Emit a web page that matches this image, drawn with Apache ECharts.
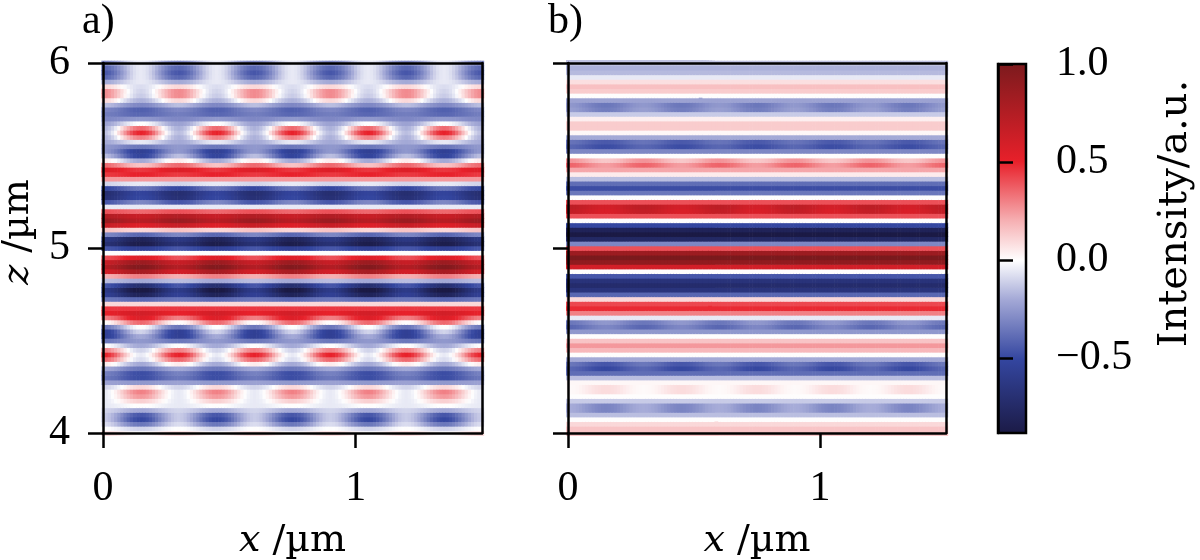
<!DOCTYPE html>
<html>
<head>
<meta charset="utf-8">
<script src="https://cdn.jsdelivr.net/npm/echarts@6/dist/echarts.min.js"></script>
<style>
  html, body { margin: 0; background: #fff; }
  #chart { width: 1200px; height: 560px; }
</style>
</head>
<body>
<div id="chart"></div>
<script>
// row centres run from 4.000 to 6.000 um in steps of 0.025
var zStart = 4.0, zStep = 0.025;
// column centres run from 0 to 1.5 um in steps of 0.0125
var xStep = 0.0125, xMax = 1.5;
// shape of one 0.3 um period along x (1 = peak column at x=0.15, 0 = trough column at x=0, 0.3)
var phaseWeight = [
  0, 0.02, 0.07, 0.15, 0.25, 0.37, 0.5, 0.63, 0.75, 0.85, 0.93, 0.98,
  1, 0.98, 0.93, 0.85, 0.75, 0.63, 0.5, 0.37, 0.25, 0.15, 0.07, 0.02
];

// panel a) values read along x=0.15 (peak) and x=0.3 (trough), z = 4.000 ... 6.000
var aPeak = [
  0.0, -0.1, -0.35, -0.5, -0.45, -0.2, 0.0, 0.12, 0.25, 0.3,
  0.1, -0.25, -0.48, -0.48, -0.35, -0.2, -0.08, -0.05, -0.1, -0.2,
  -0.25, -0.2, -0.1, 0.0, 0.35, 0.55, 0.6, 0.45, 0.1, -0.4,
  -0.8, -0.9, -0.7, -0.2, 0.3, 0.8, 0.97, 0.85, 0.55, 0.0,
  -0.55, -0.85, -0.8, -0.4, 0.1, 0.55, 0.72, 0.65, 0.35, -0.05,
  -0.3, -0.5, -0.52, -0.35, -0.05, 0.25, 0.5, 0.45, 0.15, -0.2,
  -0.52, -0.55, -0.35, -0.05, 0.3, 0.5, 0.35, 0.0, -0.25, -0.4,
  -0.42, -0.3, -0.18, -0.12, -0.1, -0.08, -0.05, -0.05, -0.05, -0.05,
  -0.05
];
var aTrough = [
  0.1, 0.0, -0.08, -0.12, -0.12, -0.1, -0.05, -0.05, -0.05, -0.05,
  -0.1, -0.22, -0.35, -0.32, -0.2, 0.05, 0.35, 0.5, 0.3, 0.0,
  -0.35, -0.55, -0.55, -0.35, 0.0, 0.3, 0.5, 0.45, 0.1, -0.35,
  -0.55, -0.6, -0.45, -0.15, 0.2, 0.6, 0.75, 0.65, 0.4, 0.0,
  -0.45, -0.68, -0.62, -0.3, 0.15, 0.65, 0.85, 0.75, 0.4, -0.05,
  -0.45, -0.68, -0.7, -0.5, -0.1, 0.25, 0.45, 0.55, 0.35, 0.05,
  -0.15, -0.25, -0.25, -0.2, -0.18, -0.15, -0.18, -0.22, -0.3, -0.33,
  -0.3, -0.15, 0.1, 0.28, 0.28, 0.1, -0.2, -0.4, -0.45, -0.4,
  -0.3
];

// panel b) same columns
var bPeak = [
  0.15, 0.15, 0.1, 0.0, -0.15, -0.31, -0.31, -0.12, 0.0, 0.09,
  0.09, 0.02, -0.15, -0.38, -0.5, -0.45, -0.2, 0.0, 0.18, 0.25,
  0.15, 0.0, -0.25, -0.3, -0.25, -0.05, 0.3, 0.48, 0.42, 0.1,
  -0.4, -0.65, -0.72, -0.66, -0.45, 0.0, 0.6, 0.9, 1.0, 0.85,
  0.4, -0.3, -0.75, -0.88, -0.8, -0.5, 0.0, 0.4, 0.57, 0.6,
  0.4, 0.0, -0.35, -0.48, -0.38, -0.15, 0.05, 0.22, 0.24, 0.14,
  0.0, -0.3, -0.48, -0.44, -0.2, 0.02, 0.13, 0.13, 0.04, -0.12,
  -0.33, -0.35, -0.22, 0.0, 0.13, 0.16, 0.08, -0.05, -0.16, -0.18,
  -0.14
];
var bTrough = [
  0.15, 0.15, 0.1, 0.0, -0.15, -0.19, -0.19, -0.12, 0.0, 0.01,
  0.01, 0.02, -0.15, -0.38, -0.4, -0.35, -0.2, 0.0, 0.18, 0.25,
  0.15, 0.0, -0.25, -0.4, -0.35, -0.05, 0.3, 0.48, 0.42, 0.1,
  -0.4, -0.65, -0.72, -0.66, -0.45, 0.0, 0.6, 0.9, 1.0, 0.85,
  0.4, -0.3, -0.75, -0.88, -0.8, -0.5, 0.0, 0.4, 0.67, 0.7,
  0.4, 0.0, -0.35, -0.48, -0.38, -0.15, 0.05, 0.22, 0.36, 0.26,
  0.0, -0.3, -0.4, -0.36, -0.2, 0.02, 0.13, 0.13, 0.04, -0.12,
  -0.23, -0.25, -0.22, 0.0, 0.13, 0.16, 0.08, -0.05, -0.16, -0.18,
  -0.14
];

// colour bar
var cbMin = -0.88, cbMax = 1.0;
var cbTicks = [-0.5, 0, 0.5, 1.0];
var cbStops = [
  [-0.88, '#1b1a45'], [-0.5, '#3446a0'], [-0.2, '#a3a8d6'], [0, '#ffffff'],
  [0.2, '#f6b0b3'], [0.5, '#e8202a'], [1.0, '#7b1a1d']
];

var xTicks = [0, 1];
var font = 'Liberation Serif';
var nameFont = 'DejaVu Serif';

function hexRgb(h) {
  return [parseInt(h.substr(1, 2), 16), parseInt(h.substr(3, 2), 16), parseInt(h.substr(5, 2), 16)];
}
function cmap(v) {
  for (var k = 1; k < cbStops.length; k++) {
    if (v <= cbStops[k][0] || k == cbStops.length - 1) {
      var a = cbStops[k - 1], b = cbStops[k];
      var t = Math.max(0, Math.min(1, (v - a[0]) / (b[0] - a[0])));
      var ca = hexRgb(a[1]), cb = hexRgb(b[1]);
      return 'rgb(' + [0, 1, 2].map(function (n) { return Math.round(ca[n] + (cb[n] - ca[n]) * t); }).join(',') + ')';
    }
  }
}
var vmColors = [];
for (var s = 0; s <= 60; s++) vmColors.push(cmap(cbMin + (cbMax - cbMin) * s / 60));

function buildCells(peak, trough) {
  var out = [];
  for (var j = 0; j * xStep <= xMax + 1e-9; j++) {
    var w = phaseWeight[j % phaseWeight.length];
    for (var i = 0; i < peak.length; i++) {
      var v = trough[i] + (peak[i] - trough[i]) * w;
      v = Math.max(cbMin, Math.min(cbMax, v));
      out.push([+(j * xStep).toFixed(4), +(zStart + i * zStep).toFixed(4), v]);
    }
  }
  return out;
}

function renderCell(params, api) {
  var x = api.value(0), z = api.value(1);
  var p0 = api.coord([x - xStep / 2, z + zStep / 2]);
  var p1 = api.coord([x + xStep / 2, z - zStep / 2]);
  return {
    type: 'rect',
    shape: { x: p0[0], y: p0[1], width: p1[0] - p0[0] + 0.6, height: p1[1] - p0[1] + 0.6 },
    style: { fill: api.visual('color') }
  };
}

var lineSt = { color: '#000', width: 2.5 };
var labelSt = { color: '#000', fontSize: 42, fontFamily: font };
var nameSt = {
  color: '#000', fontSize: 38, fontFamily: nameFont,
  rich: { i: { fontStyle: 'italic', fontSize: 38, fontFamily: nameFont } }
};

function bottomAxis(g) {
  return {
    gridIndex: g, type: 'value', min: 0, max: xMax, z: 10,
    axisLine: { show: true, lineStyle: lineSt },
    axisTick: { show: true, length: 15, customValues: xTicks, lineStyle: lineSt },
    axisLabel: Object.assign({ margin: 35, customValues: xTicks }, labelSt),
    splitLine: { show: false },
    name: '{i|x} /µm', nameLocation: 'middle', nameGap: 89,
    nameTextStyle: nameSt
  };
}
function frameAxis(g, pos) {
  return {
    gridIndex: g, type: 'value', position: pos, min: 0, max: 1, z: 10,
    axisLine: { show: true, onZero: false, lineStyle: lineSt },
    axisTick: { show: false }, axisLabel: { show: false }, splitLine: { show: false }
  };
}
function leftAxis(g, labels) {
  var ax = {
    gridIndex: g, type: 'value', min: 4, max: 6, interval: 1, z: 10,
    axisLine: { show: true, lineStyle: lineSt },
    axisTick: { show: true, length: 15, lineStyle: lineSt },
    axisLabel: Object.assign({ show: labels, margin: 33 }, labelSt),
    splitLine: { show: false }
  };
  if (labels) {
    ax.name = '{i|z} /µm';
    ax.nameLocation = 'middle';
    ax.nameGap = 66;
    ax.nameTextStyle = Object.assign({ padding: [0, 0, 0, 32] }, nameSt);
  }
  return ax;
}

var gradStops = cbStops.map(function (st) {
  return { offset: (st[0] - cbMin) / (cbMax - cbMin), color: st[1] };
});

var option = {
  animation: false,
  backgroundColor: '#fff',
  textStyle: { fontFamily: font },
  grid: [
    { left: 103, top: 63, width: 379, height: 370, outerBoundsMode: 'none' },
    { left: 568, top: 63, width: 378, height: 370, outerBoundsMode: 'none' },
    { left: 998, top: 64, width: 28, height: 369, outerBoundsMode: 'none' }
  ],
  xAxis: [
    bottomAxis(0), bottomAxis(1),
    { gridIndex: 2, type: 'value', min: 0, max: 1, show: false },
    frameAxis(0, 'top'), frameAxis(1, 'top')
  ],
  yAxis: [
    leftAxis(0, true), leftAxis(1, false),
    {
      gridIndex: 2, type: 'value', position: 'right', min: cbMin, max: cbMax, z: 10,
      axisLine: { show: true, lineStyle: lineSt },
      axisTick: { show: true, length: 15, customValues: cbTicks, lineStyle: lineSt },
      axisLabel: Object.assign({
        margin: 30, customValues: cbTicks,
        formatter: function (v) { return (v < 0 ? '\u2212' : '') + Math.abs(v).toFixed(1); }
      }, labelSt),
      splitLine: { show: false },
      name: 'Intensity/a.u.', nameLocation: 'middle', nameRotate: 90, nameGap: 130,
      nameTextStyle: { color: '#000', fontSize: 40, fontFamily: nameFont, padding: [0, 0, 0, 70] }
    },
    frameAxis(0, 'right'), frameAxis(1, 'right')
  ],
  visualMap: {
    type: 'continuous', show: false, seriesIndex: [0, 1], dimension: 2,
    min: cbMin, max: cbMax, inRange: { color: vmColors }
  },
  graphic: [
    { type: 'text', left: 82, top: 1, style: { text: 'a)', fontSize: 42, fontFamily: font, fill: '#000' } },
    { type: 'text', left: 548, top: 1, style: { text: 'b)', fontSize: 42, fontFamily: font, fill: '#000' } }
  ],
  series: [
    {
      type: 'custom', xAxisIndex: 0, yAxisIndex: 0, clip: true,
      renderItem: renderCell, encode: { x: 0, y: 1 }, data: buildCells(aPeak, aTrough)
    },
    {
      type: 'custom', xAxisIndex: 1, yAxisIndex: 1, clip: true,
      renderItem: renderCell, encode: { x: 0, y: 1 }, data: buildCells(bPeak, bTrough)
    },
    {
      type: 'custom', xAxisIndex: 2, yAxisIndex: 2, z: 5,
      encode: { x: 0, y: 1 }, data: [[0, cbMin]],
      renderItem: function (params, api) {
        var p0 = api.coord([0, cbMax]);
        var p1 = api.coord([1, cbMin]);
        return {
          type: 'rect',
          shape: { x: p0[0], y: p0[1], width: p1[0] - p0[0], height: p1[1] - p0[1] },
          style: { fill: new echarts.graphic.LinearGradient(0, 1, 0, 0, gradStops), stroke: '#000', lineWidth: 2.5 }
        };
      }
    }
  ]
};

var chart = echarts.init(document.getElementById('chart'));
chart.setOption(option);
</script>
</body>
</html>
